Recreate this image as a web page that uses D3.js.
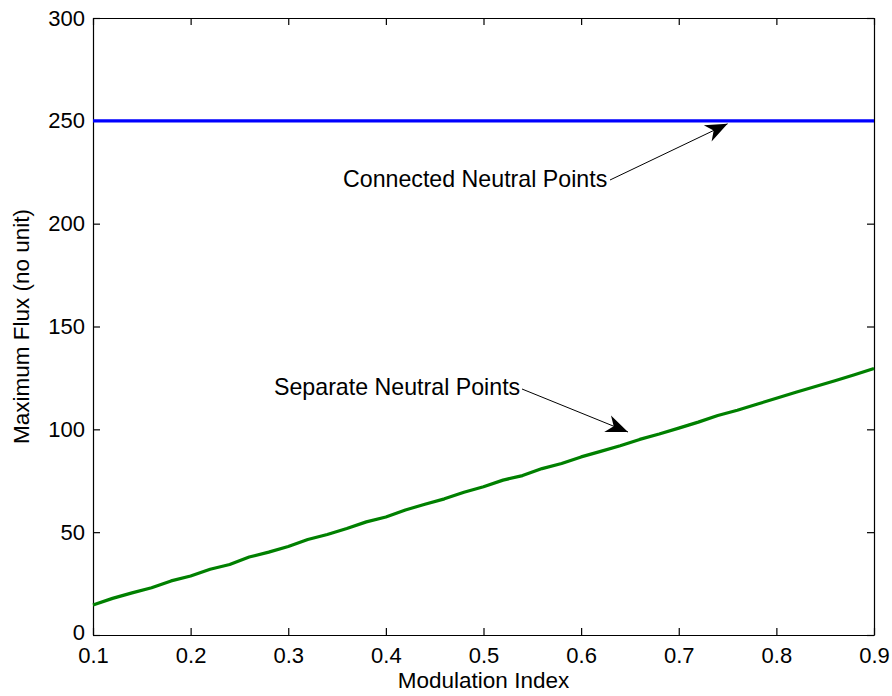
<!DOCTYPE html>
<html><head><meta charset="utf-8">
<script src="https://cdn.jsdelivr.net/npm/d3@7/dist/d3.min.js"></script>
<style>body{margin:0;background:#fff}svg{display:block;font-family:"Liberation Sans",Arial,sans-serif}</style>
</head><body>
<script>
const modIndex = [0.10,0.12,0.14,0.16,0.18,0.20,0.22,0.24,0.26,0.28,0.30,0.32,0.34,0.36,0.38,0.40,0.42,0.44,0.46,0.48,0.50,0.52,0.54,0.56,0.58,0.60,0.62,0.64,0.66,0.68,0.70,0.72,0.74,0.76,0.78,0.80,0.82,0.84,0.86,0.88,0.90];
const separateFlux = [14.6,17.8,20.5,23.0,26.3,28.7,32.0,34.3,37.9,40.3,43.0,46.4,48.9,51.8,55.0,57.4,60.8,63.6,66.2,69.4,72.1,75.3,77.5,80.9,83.4,86.6,89.3,92.0,95.1,97.7,100.6,103.5,106.7,109.3,112.2,115.1,118.0,120.8,123.6,126.5,129.6];
const connectedX = [0.1, 0.9];
const connectedFlux = [250, 250];
const xTicks = [0.1,0.2,0.3,0.4,0.5,0.6,0.7,0.8,0.9];
const yTicks = [0,50,100,150,200,250,300];

const W = 892, H = 696;
const m = {l:93, r:18, t:18, b:61};
const svg = d3.select("body").append("svg").attr("width",W).attr("height",H);
const x = d3.scaleLinear().domain([0.1,0.9]).range([m.l, W-m.r]);
const y = d3.scaleLinear().domain([0,300]).range([H-m.b, m.t]);

const fs = 22;
const ff = '"Liberation Sans",Arial,sans-serif';
const gB = svg.append("g").attr("transform",`translate(0,${H-m.b})`)
  .call(d3.axisBottom(x).tickValues(xTicks).tickSizeInner(-7).tickSizeOuter(0).tickPadding(12).tickFormat(d3.format(".1f")));
const gL = svg.append("g").attr("transform",`translate(${m.l},0)`)
  .call(d3.axisLeft(y).tickValues(yTicks).tickSizeInner(-7).tickSizeOuter(0).tickPadding(8));
const gT = svg.append("g").attr("transform",`translate(0,${m.t})`)
  .call(d3.axisTop(x).tickValues(xTicks).tickSizeInner(-7).tickSizeOuter(0).tickFormat(""));
const gR = svg.append("g").attr("transform",`translate(${W-m.r},0)`)
  .call(d3.axisRight(y).tickValues(yTicks).tickSizeInner(-7).tickSizeOuter(0).tickFormat(""));
[gB,gL,gT,gR].forEach(g=>{
  g.selectAll("path,line").attr("stroke","#000").attr("stroke-width",1.2);
  g.selectAll("text").attr("fill","#000").style("font-size",fs+"px").style("font-family",ff);
});
gB.selectAll("text").attr("dy","0.71em");
gL.selectAll("text").filter(d=>d===0).attr("dy","0.2em");

const line = d3.line().x(d=>x(d[0])).y(d=>y(d[1]));
svg.append("path").datum(connectedX.map((v,i)=>[v,connectedFlux[i]]))
  .attr("d",line).attr("fill","none").attr("stroke","#0000ff").attr("stroke-width",3.2);
svg.append("path").datum(modIndex.map((v,i)=>[v,separateFlux[i]]))
  .attr("d",line).attr("fill","none").attr("stroke","#008000").attr("stroke-width",3.2).attr("stroke-linejoin","round");

function arrow(x1,y1,x2,y2){
  svg.append("line").attr("x1",x1).attr("y1",y1).attr("x2",x2).attr("y2",y2).attr("stroke","#000").attr("stroke-width",1);
  const a = Math.atan2(y2-y1,x2-x1), L=22, Wd=9;
  const bx = x2 - L*Math.cos(a), by = y2 - L*Math.sin(a);
  const px = -Math.sin(a)*Wd, py = Math.cos(a)*Wd;
  const nx = x2 - 0.7*L*Math.cos(a), ny = y2 - 0.7*L*Math.sin(a);
  svg.append("path").attr("d",`M${x2},${y2}L${bx+px},${by+py}L${nx},${ny}L${bx-px},${by-py}Z`).attr("fill","#000");
}
const ann = svg.append("g").style("font-size","23.2px").style("font-family",ff);
ann.append("text").attr("x",343).attr("y",187).text("Connected Neutral Points");
arrow(610,180,x(0.75),y(250)+3);
ann.append("text").attr("x",274).attr("y",395).text("Separate Neutral Points");
arrow(522,389,628,432);

svg.append("text").attr("x",(m.l+W-m.r)/2).attr("y",688).attr("text-anchor","middle").style("font-size","22.5px").style("font-family",ff).text("Modulation Index");
svg.append("text").attr("transform",`translate(29,${(m.t+H-m.b)/2}) rotate(-90)`).attr("text-anchor","middle").style("font-size","22.5px").style("font-family",ff).text("Maximum Flux (no unit)");
</script>
</body></html>
